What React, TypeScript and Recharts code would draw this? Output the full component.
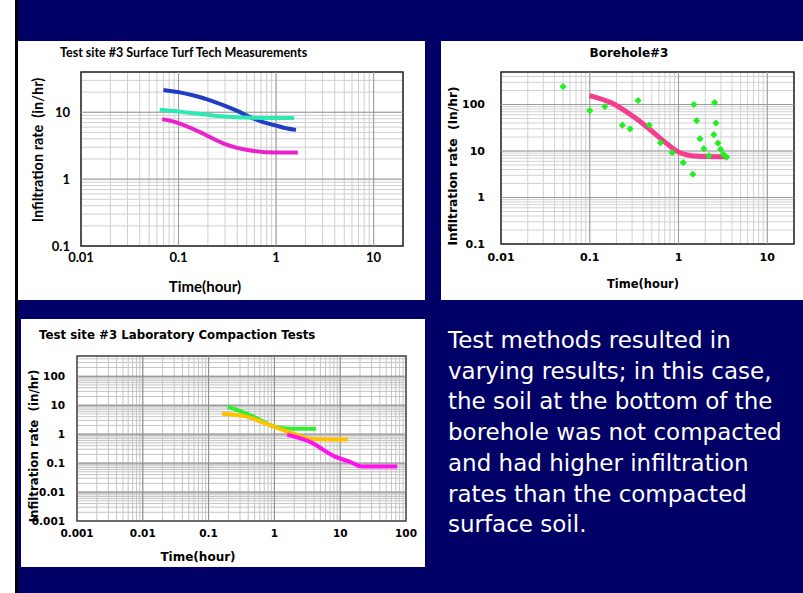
import React from 'react';
import {
  ComposedChart,
  Line,
  Scatter,
  XAxis,
  YAxis,
  CartesianGrid,
  ReferenceLine,
  ReferenceArea
} from 'recharts';

const NAVY = '#000066';
const VERDANA = "'DejaVu Sans', Verdana, sans-serif";
const CALIBRI = "Lato, 'Open Sans', sans-serif";

// --- Test site #3 Surface Turf Tech Measurements ---
const turfXDecades = [0.01, 0.1, 1, 10];
const turfYDecades = [0.1, 1, 10];
const turfBlueTime = [0.07, 0.1, 0.15, 0.2, 0.3, 0.4, 0.55, 0.7, 1.0, 1.3, 1.6];
const turfBlueRate = [21.6, 20, 17.5, 15.5, 12.5, 10.5, 8.4, 7.3, 6.3, 5.7, 5.45];
const turfCyanTime = [0.064, 0.1, 0.15, 0.25, 0.4, 0.55, 1.0, 1.53];
const turfCyanRate = [10.9, 10.3, 9.6, 8.8, 8.4, 8.3, 8.2, 8.2];
const turfPinkTime = [0.068, 0.1, 0.168, 0.29, 0.55, 1.0, 1.67];
const turfPinkRate = [7.9, 6.9, 5.0, 3.4, 2.68, 2.5, 2.5];

// --- Borehole#3 ---
const boreXDecades = [0.01, 0.1, 1, 10];
const boreYDecades = [0.1, 1, 10, 100];
const boreFitTime = [0.099, 0.186, 0.31, 0.48, 0.74, 1.0, 1.62, 3.53];
const boreFitRate = [155, 103, 55, 28.7, 14.4, 9.5, 7.7, 7.5];
const borePointTime = [0.05, 0.1, 0.148, 0.233, 0.285, 0.351, 0.467, 0.627, 0.849, 1.13, 1.45, 1.49, 1.6, 1.74, 1.93, 2.2, 2.5, 2.55, 2.64, 2.78, 2.98, 3.19, 3.48];
const borePointRate = [243, 74, 90.6, 36, 30, 122, 36, 15.1, 9.2, 5.6, 3.16, 100, 45, 18.4, 11.2, 7.9, 22.4, 110, 39.8, 14.8, 10.9, 8.5, 7.4];

// --- Test site #3 Laboratory Compaction Tests ---
const labXDecades = [0.001, 0.01, 0.1, 1, 10, 100];
const labYDecades = [0.001, 0.01, 0.1, 1, 10, 100];
const labGreenTime = [0.195, 0.443, 0.665, 1.0, 1.8, 4.3];
const labGreenRate = [8.9, 4.35, 2.77, 1.81, 1.55, 1.55];
const labOrangeTime = [0.16, 0.35, 0.89, 2.02, 3.6, 13];
const labOrangeRate = [5.1, 4.2, 1.96, 1.01, 0.68, 0.65];
const labPinkTime = [1.56, 3.6, 8.2, 14.7, 20.8, 73.4];
const labPinkRate = [0.96, 0.52, 0.17, 0.106, 0.077, 0.077];

const noteLines = [
  'Test methods resulted in',
  'varying results; in this case,',
  'the soil at the bottom of the',
  'borehole was not compacted',
  'and had higher infiltration',
  'rates than the compacted',
  'surface soil.'
];

const zip = (t: number[], r: number[]) => t.map((time, i) => ({ time, rate: r[i] }));

// every 1..9 multiple of each decade, for the log grid
const logGrid = (decades: number[], max: number) =>
  decades
    .flatMap(d => [1, 2, 3, 4, 5, 6, 7, 8, 9].map(m => +(d * m).toPrecision(3)))
    .filter(v => v <= max);

interface PanelProps {
  left: number;
  top: number;
  width: number;
  height: number;
  plot: { left: number; top: number; right: number; bottom: number };
  xDomain: [number, number];
  yDomain: [number, number];
  xDecades: number[];
  yDecades: number[];
  tickFont: string;
  tickSize: number;
  xGap: number;
  yGap: number;
  minor: string;
  major: string;
  border: string;
  children?: React.ReactNode;
}

const LogPanel: React.FC<PanelProps> = p => {
  const xTicks = logGrid(p.xDecades, p.xDomain[1]);
  const yTicks = logGrid(p.yDecades, p.yDomain[1]);
  const tick = { fontSize: p.tickSize, fontWeight: 'bold', fill: '#000', fontFamily: p.tickFont };
  return (
    <div style={{ position: 'absolute', left: p.left, top: p.top, width: p.width, height: p.height, background: '#fff' }}>
      <ComposedChart
        width={p.width}
        height={p.height}
        margin={{ top: p.plot.top, right: p.width - p.plot.right, left: 0, bottom: 0 }}
      >
        <CartesianGrid stroke={p.minor} strokeWidth={1} />
        <XAxis
          dataKey="time"
          type="number"
          scale="log"
          domain={p.xDomain}
          allowDataOverflow
          ticks={xTicks}
          interval={0}
          height={p.height - p.plot.bottom}
          tickFormatter={(v: number) => (p.xDecades.includes(v) ? String(v) : '')}
          tick={tick}
          tickSize={0}
          tickMargin={p.xGap}
          axisLine={false}
          tickLine={false}
        />
        <YAxis
          dataKey="rate"
          type="number"
          scale="log"
          domain={p.yDomain}
          allowDataOverflow
          ticks={yTicks}
          interval={0}
          width={p.plot.left}
          tickFormatter={(v: number) => (p.yDecades.includes(v) ? String(v) : '')}
          tick={tick}
          tickSize={0}
          tickMargin={p.yGap}
          axisLine={false}
          tickLine={false}
        />
        {p.xDecades.filter(v => v > p.xDomain[0] && v < p.xDomain[1]).map(v => (
          <ReferenceLine key={'x' + v} x={v} stroke={p.major} strokeWidth={1} />
        ))}
        {p.yDecades.filter(v => v > p.yDomain[0] && v < p.yDomain[1]).map(v => (
          <ReferenceLine key={'y' + v} y={v} stroke={p.major} strokeWidth={1} />
        ))}
        <ReferenceArea
          x1={p.xDomain[0]}
          x2={p.xDomain[1]}
          y1={p.yDomain[0]}
          y2={p.yDomain[1]}
          fill="none"
          stroke={p.border}
          strokeWidth={1.5}
        />
        {p.children}
      </ComposedChart>
    </div>
  );
};

const Txt: React.FC<{ x: number; y: number; size: number; font: string; rotate?: boolean; left?: boolean; color?: string; bold?: boolean; children: React.ReactNode }> = ({
  x, y, size, font, rotate, left, color = '#000', bold = true, children
}) => (
  <div
    style={{
      position: 'absolute',
      left: x,
      top: y,
      transform: `translate(${left ? '0' : '-50%'}, -50%)${rotate ? ' rotate(-90deg)' : ''}`,
      whiteSpace: 'pre',
      fontFamily: font,
      fontSize: size,
      fontWeight: bold ? 'bold' : 'normal',
      color,
      lineHeight: 1
    }}
  >
    {children}
  </div>
);

const Diamond = (props: any) => {
  const { cx, cy } = props;
  if (cx == null || cy == null) return null;
  const r = 3.6;
  return <polygon points={`${cx},${cy - r} ${cx + r},${cy} ${cx},${cy + r} ${cx - r},${cy}`} fill="#22ee22" />;
};

const App: React.FC = () => {
  return (
    <div style={{ position: 'absolute', left: 0, top: 0, width: 803, height: 593, background: '#fff', overflow: 'hidden' }}>
      <div style={{ position: 'absolute', left: 15, top: 0, width: 3, height: 593, background: '#000' }} />
      <div style={{ position: 'absolute', left: 18, top: 0, width: 785, height: 593, background: NAVY }} />

      {/* Surface turf tech */}
      <LogPanel
        left={18} top={41} width={407} height={259}
        plot={{ left: 63, top: 31, right: 385, bottom: 205 }}
        xDomain={[0.01, 20]} yDomain={[0.1, 40]}
        xDecades={turfXDecades} yDecades={turfYDecades}
        tickFont={CALIBRI} tickSize={13} xGap={7} yGap={11}
        minor="#cfcfcf" major="#9a9a9a" border="#222"
      >
        <Line data={zip(turfBlueTime, turfBlueRate)} dataKey="rate" type="monotone" stroke="#1f3cc4" strokeWidth={4} dot={false} isAnimationActive={false} />
        <Line data={zip(turfCyanTime, turfCyanRate)} dataKey="rate" type="monotone" stroke="#2ee8b4" strokeWidth={4} dot={false} isAnimationActive={false} />
        <Line data={zip(turfPinkTime, turfPinkRate)} dataKey="rate" type="monotone" stroke="#e822cc" strokeWidth={4} dot={false} isAnimationActive={false} />
      </LogPanel>
      <Txt x={60} y={53} size={12.5} font={CALIBRI} left>Test site #3 Surface Turf Tech Measurements</Txt>
      <Txt x={205} y={286} size={15} font={CALIBRI}>Time(hour)</Txt>
      <Txt x={38} y={150} size={14.5} font={CALIBRI} rotate>Infiltration rate  (in/hr)</Txt>

      {/* Borehole */}
      <LogPanel
        left={441} top={41} width={362} height={259}
        plot={{ left: 60, top: 31, right: 353, bottom: 203 }}
        xDomain={[0.01, 20]} yDomain={[0.1, 500]}
        xDecades={boreXDecades} yDecades={boreYDecades}
        tickFont={VERDANA} tickSize={11} xGap={9} yGap={16}
        minor="#d2d2d2" major="#9a9a9a" border="#222"
      >
        <Line data={zip(boreFitTime, boreFitRate)} dataKey="rate" type="monotone" stroke="#f43d8c" strokeWidth={5} dot={false} isAnimationActive={false} />
        <Scatter data={zip(borePointTime, borePointRate)} dataKey="rate" shape={Diamond} isAnimationActive={false} />
      </LogPanel>
      <Txt x={629} y={53} size={12} font={VERDANA}>Borehole#3</Txt>
      <Txt x={643} y={285} size={11.5} font={VERDANA}>Time(hour)</Txt>
      <Txt x={453} y={166} size={12.3} font={VERDANA} rotate>Infiltration rate  (in/hr)</Txt>

      {/* Laboratory compaction */}
      <LogPanel
        left={21} top={319} width={404} height={248}
        plot={{ left: 56, top: 37, right: 385, bottom: 202 }}
        xDomain={[0.001, 100]} yDomain={[0.001, 500]}
        xDecades={labXDecades} yDecades={labYDecades}
        tickFont={VERDANA} tickSize={10.5} xGap={9} yGap={12}
        minor="#c4c4c4" major="#8a8a8a" border="#444"
      >
        <Line data={zip(labGreenTime, labGreenRate)} dataKey="rate" type="monotone" stroke="#33ee33" strokeWidth={4} dot={false} isAnimationActive={false} />
        <Line data={zip(labOrangeTime, labOrangeRate)} dataKey="rate" type="monotone" stroke="#ffc000" strokeWidth={4} dot={false} isAnimationActive={false} />
        <Line data={zip(labPinkTime, labPinkRate)} dataKey="rate" type="monotone" stroke="#ff11ee" strokeWidth={4} dot={false} isAnimationActive={false} />
      </LogPanel>
      <Txt x={39} y={336} size={11.8} font={VERDANA} left>Test site #3 Laboratory Compaction Tests</Txt>
      <Txt x={198} y={557} size={12} font={VERDANA}>Time(hour)</Txt>
      <Txt x={35} y={446} size={11.8} font={VERDANA} rotate>Infiltration rate  (in/hr)</Txt>

      {noteLines.map((line, i) => (
        <Txt key={i} x={448} y={340 + i * 30.7} size={23} font={VERDANA} left color="#fff" bold={false}>
          {line}
        </Txt>
      ))}
    </div>
  );
};

export default App;
